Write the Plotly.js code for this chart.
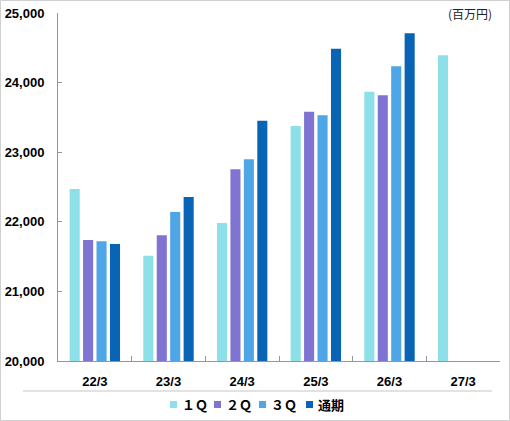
<!DOCTYPE html>
<html>
<head>
<meta charset="utf-8">
<script src="https://cdn.plot.ly/plotly-3.0.1.min.js"></script>
<style>
html,body{margin:0;padding:0;background:#fff;}
#chart{width:510px;height:421px;}
</style>
</head>
<body>
<div id="chart"></div>
<script>
const categories = ['22/3','23/3','24/3','25/3','26/3','27/3'];
const seriesNames = ['１Ｑ','２Ｑ','３Ｑ','通期'];
const q1 = [22470, 21513, 21983, 23376, 23870, 24392];
const q2 = [21739, 21806, 22754, 23582, 23817, null];
const q3 = [21720, 22141, 22898, 23530, 24234, null];
const full = [21681, 22356, 23453, 24487, 24708, null];
const yTicks = [20000, 21000, 22000, 23000, 24000, 25000];
const yTickLabels = ['20,000','21,000','22,000','23,000','24,000','25,000'];
const unitLabel = '(百万円)';

const colors = ['#8DE0E8', '#8074D2', '#4FA6E6', '#0A64B5'];
const allSeries = [q1, q2, q3, full];

const traces = allSeries.map((vals, i) => ({
  type: 'bar',
  name: seriesNames[i],
  x: categories,
  y: vals,
  marker: {color: colors[i], line: {width: 0}},
  hoverinfo: 'skip'
}));

// plot area geometry (px) for placing non-data decorations
const L = 58, R = 10, T = 13, B = 60, W = 510, H = 421;
const pw = W - L - R, ph = H - T - B;
const px = v => (v - L) / pw;
const py = v => (H - B - v) / ph;

const legendMarkers = [170, 214, 259, 306];
const legendTexts = [180, 224, 269, 316];
const shapes = [
  {type:'line', xref:'paper', yref:'paper', x0:px(23), x1:px(492), y0:py(391), y1:py(391),
   line:{color:'#D9D9D9', width:1.5}},
  {type:'rect', xref:'paper', yref:'paper', x0:px(0.5), x1:px(509.5), y0:py(0.5), y1:py(420.5),
   line:{color:'#D0D0D0', width:1}}
];
legendMarkers.forEach((m, i) => {
  shapes.push({type:'rect', xref:'paper', yref:'paper', x0:px(m), x1:px(m+7), y0:py(401), y1:py(408),
    fillcolor:colors[i], line:{width:0}});
});
const annotations = [
  {xref:'paper', yref:'paper', x:px(494), y:py(13), xanchor:'right', yanchor:'middle',
   text: unitLabel, showarrow:false,
   font:{family:'Noto Sans CJK JP, sans-serif', size:12, color:'#222'}}
];
legendTexts.forEach((t, i) => {
  annotations.push({xref:'paper', yref:'paper', x:px(t), y:py(404), xanchor:'left', yanchor:'middle',
    text:'<b>'+seriesNames[i]+'</b>', showarrow:false,
    font:{family:'Noto Sans CJK JP, sans-serif', size:13, color:'#000'}});
});

const layout = {
  width: W, height: H,
  margin: {l:L, r:R, t:T, b:B, pad:0},
  paper_bgcolor:'#fff', plot_bgcolor:'#fff',
  barmode:'group', bargap:0.27, bargroupgap:0.25,
  showlegend:false,
  font:{family:'Liberation Sans, Arial, sans-serif', color:'#000'},
  xaxis:{
    type:'category', tickson:'boundaries', ticks:'inside', ticklen:5, tickcolor:'#8C97AB',
    showline:true, linecolor:'#8C97AB', linewidth:1, showgrid:false, zeroline:false,
    tickfont:{family:'Liberation Sans, Arial, sans-serif', size:13, color:'#000', weight:'bold'},
    ticklabelstandoff: 8,
    fixedrange:true
  },
  yaxis:{
    range:[20000, 25000], tickvals:yTicks, ticktext:yTickLabels,
    ticks:'inside', ticklen:4, tickcolor:'#8C97AB',
    showline:true, linecolor:'#8C97AB', linewidth:1, showgrid:false, zeroline:false,
    tickfont:{family:'Liberation Sans, Arial, sans-serif', size:13, color:'#000', weight:'bold'},
    ticklabelstandoff: 10,
    fixedrange:true
  },
  shapes: shapes,
  annotations: annotations
};

Plotly.newPlot('chart', traces, layout, {displayModeBar:false, staticPlot:true});
</script>
</body>
</html>
